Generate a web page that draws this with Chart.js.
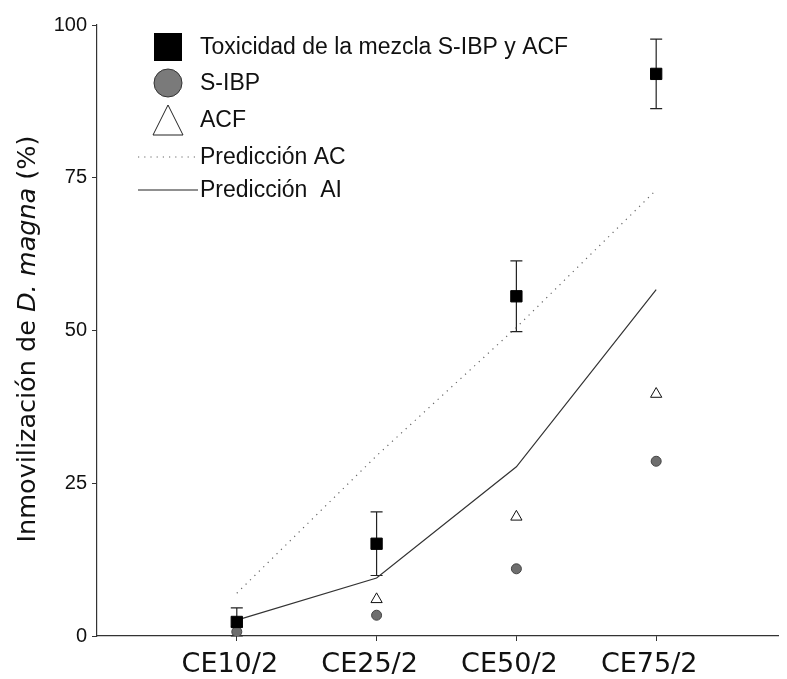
<!DOCTYPE html>
<html>
<head>
<meta charset="utf-8">
<script src="https://cdn.jsdelivr.net/npm/chart.js@4.4.1/dist/chart.umd.min.js"></script>
<style>
  html, body { margin: 0; padding: 0; background: #fff; }
  #wrap { width: 787px; height: 679px; }
</style>
</head>
<body>
<div id="wrap"><canvas id="chart" width="787" height="679"></canvas></div>
<script>
const categories = ["CE10/2", "CE25/2", "CE50/2", "CE75/2"];
const mixture = [2.3, 15.1, 55.6, 92.0];
const mixtureErr = [2.3, 5.2, 5.8, 5.7];
const sibp = [0.7, 3.4, 11.0, 28.6];
const acf = [2.0, 6.0, 19.5, 39.6];
const predAC = [7.0, 29.5, 50.5, 73.0];
const predAI = [2.6, 9.5, 27.7, 56.7];
const yTicks = [0, 25, 50, 75, 100];

const legendItems = [
  { label: "Toxicidad de la mezcla S-IBP y ACF", kind: "square" },
  { label: "S-IBP", kind: "circle" },
  { label: "ACF", kind: "triangle" },
  { label: "Predicción AC", kind: "dotted" },
  { label: "Predicción  AI", kind: "solid" }
];

const AXIS = "#333";
const toXY = (arr) => arr.map((v, i) => ({ x: i + 1, y: v }));

const errorBars = {
  id: "errorBars",
  beforeDatasetsDraw(chart) {
    const { ctx, scales: { x, y } } = chart;
    ctx.save();
    ctx.strokeStyle = "#222";
    ctx.lineWidth = 1.2;
    mixture.forEach((v, i) => {
      const px = x.getPixelForValue(i + 1);
      const top = y.getPixelForValue(v + mixtureErr[i]);
      const bot = y.getPixelForValue(v - mixtureErr[i]);
      ctx.beginPath();
      ctx.moveTo(px, top); ctx.lineTo(px, bot);
      ctx.moveTo(px - 6, top); ctx.lineTo(px + 6, top);
      ctx.moveTo(px - 6, bot); ctx.lineTo(px + 6, bot);
      ctx.stroke();
    });
    ctx.restore();
  }
};

const innerLegend = {
  id: "innerLegend",
  afterDraw(chart) {
    const ctx = chart.ctx;
    ctx.save();
    const mx = 168, tx = 200;
    const ys = [47, 83, 120, 157, 190];
    ctx.font = "23px 'Liberation Sans', Arial, sans-serif";
    ctx.textBaseline = "middle";
    legendItems.forEach((item, i) => {
      const cy = ys[i];
      ctx.beginPath();
      if (item.kind === "square") {
        ctx.fillStyle = "#000";
        ctx.fillRect(mx - 14, cy - 14, 28, 28);
      } else if (item.kind === "circle") {
        ctx.arc(mx, cy, 14, 0, Math.PI * 2);
        ctx.fillStyle = "#7a7a7a";
        ctx.fill();
        ctx.strokeStyle = "#333";
        ctx.lineWidth = 1;
        ctx.stroke();
      } else if (item.kind === "triangle") {
        ctx.moveTo(mx, cy - 15);
        ctx.lineTo(mx + 15, cy + 15);
        ctx.lineTo(mx - 15, cy + 15);
        ctx.closePath();
        ctx.fillStyle = "#fff";
        ctx.fill();
        ctx.strokeStyle = "#222";
        ctx.lineWidth = 1;
        ctx.stroke();
      } else {
        ctx.strokeStyle = item.kind === "dotted" ? "#666" : "#222";
        ctx.lineWidth = 1.2;
        ctx.setLineDash(item.kind === "dotted" ? [1.2, 5] : []);
        ctx.moveTo(138, cy); ctx.lineTo(198, cy);
        ctx.stroke();
        ctx.setLineDash([]);
      }
      ctx.fillStyle = "#111";
      ctx.fillText(item.label, tx, cy + 1);
    });

    // y axis title with italic species name
    ctx.translate(35, 339);
    ctx.rotate(-Math.PI / 2);
    const fam = "'DejaVu Sans', sans-serif";
    const size = 25.5;
    const parts = [
      { t: "Inmovilización de ", s: "" },
      { t: "D. magna", s: "oblique " },
      { t: " (%)", s: "" }
    ];
    let total = 0;
    parts.forEach((p) => {
      ctx.font = `${p.s}${size}px ${fam}`;
      total += ctx.measureText(p.t).width;
    });
    let cx = -total / 2;
    ctx.textAlign = "left";
    ctx.textBaseline = "alphabetic";
    ctx.fillStyle = "#111";
    parts.forEach((p) => {
      ctx.font = `${p.s}${size}px ${fam}`;
      ctx.fillText(p.t, cx, 0);
      cx += ctx.measureText(p.t).width;
    });
    ctx.restore();
  }
};

new Chart(document.getElementById("chart"), {
  type: "scatter",
  data: {
    datasets: [
      {
        label: "Predicción AC",
        type: "line",
        data: toXY(predAC),
        borderColor: "#666",
        borderWidth: 1.2,
        borderDash: [1.2, 5],
        pointRadius: 0,
        tension: 0,
        order: 5
      },
      {
        label: "Predicción AI",
        type: "line",
        data: toXY(predAI),
        borderColor: "#333",
        borderWidth: 1.2,
        pointRadius: 0,
        tension: 0,
        order: 4
      },
      {
        label: "S-IBP",
        data: toXY(sibp),
        pointStyle: "circle",
        pointRadius: 5,
        backgroundColor: "#6e6e6e",
        borderColor: "#444",
        borderWidth: 1,
        order: 3
      },
      {
        label: "ACF",
        data: toXY(acf),
        pointStyle: "triangle",
        pointRadius: 6.5,
        backgroundColor: "#fff",
        borderColor: "#111",
        borderWidth: 1,
        order: 2
      },
      {
        label: "Toxicidad de la mezcla S-IBP y ACF",
        data: toXY(mixture),
        pointStyle: "rect",
        pointRadius: 8,
        backgroundColor: "#000",
        borderColor: "#000",
        borderWidth: 1,
        order: 1
      }
    ]
  },
  options: {
    responsive: false,
    animation: false,
    layout: { padding: { top: 25, right: 0, left: 0, bottom: 0 } },
    plugins: {
      legend: { display: false },
      tooltip: { enabled: false }
    },
    scales: {
      x: {
        type: "linear",
        min: 0,
        max: 682 / 140,
        afterBuildTicks: (scale) => {
          scale.ticks = categories.map((c, i) => ({ value: i + 1 }));
        },
        afterFit: (scale) => {
          scale.height = 43;
        },
        ticks: {
          callback: (v) => categories[v - 1] || "",
          font: { family: "'DejaVu Sans', sans-serif", size: 27 },
          color: "#111",
          padding: 8,
          labelOffset: -7,
          maxRotation: 0,
          autoSkip: false
        },
        grid: { drawOnChartArea: false, drawTicks: true, tickLength: 5, color: AXIS },
        border: { display: true, color: AXIS, width: 1.2 }
      },
      y: {
        min: 0,
        max: 100,
        afterBuildTicks: (scale) => {
          scale.ticks = yTicks.map((v) => ({ value: v }));
        },
        afterFit: (scale) => { scale.width = 97; },
        ticks: {
          font: { family: "'Liberation Sans', Arial, sans-serif", size: 20 },
          color: "#111",
          padding: 5
        },
        grid: { drawOnChartArea: false, drawTicks: true, tickLength: 5, color: AXIS },
        border: { display: true, color: AXIS, width: 1.2 }
      }
    }
  },
  plugins: [errorBars, innerLegend]
});
</script>
</body>
</html>
